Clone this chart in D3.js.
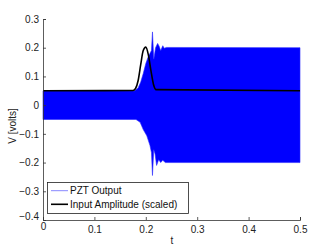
<!DOCTYPE html>
<html><head><meta charset="utf-8">
<script src="https://cdn.jsdelivr.net/npm/d3@7"></script>
<style>body{margin:0;background:#fff}svg text{font-family:"Liberation Sans",Arial,sans-serif}</style>
</head><body>
<svg id="c" width="332" height="249"></svg>
<script>
// PZT output envelope (dense oscillation drawn as filled band)
const envUpperT = [0, 0.178, 0.185, 0.19, 0.195, 0.2, 0.204, 0.208, 0.211, 0.213, 0.2155, 0.219, 0.223, 0.226, 0.229, 0.233, 0.236, 0.24, 0.5];
const envUpperV = [0.05, 0.05, 0.06, 0.08, 0.11, 0.145, 0.165, 0.18, 0.19, 0.255, 0.16, 0.2, 0.215, 0.205, 0.19, 0.207, 0.198, 0.201, 0.2];
const envLowerT = [0, 0.181, 0.189, 0.195, 0.202, 0.208, 0.211, 0.213, 0.2155, 0.218, 0.221, 0.225, 0.229, 0.233, 0.238, 0.5];
const envLowerV = [-0.05, -0.05, -0.06, -0.085, -0.107, -0.14, -0.165, -0.245, -0.155, -0.17, -0.21, -0.19, -0.2, -0.192, -0.2, -0.2];
// Input amplitude (scaled)
const inputT = [0, 0.175, 0.18, 0.185, 0.19, 0.195, 0.2, 0.205, 0.21, 0.215, 0.22, 0.5];
const inputV = [0.05, 0.051, 0.058, 0.085, 0.14, 0.19, 0.202, 0.175, 0.12, 0.072, 0.054, 0.05];
const xTicks = [0, 0.1, 0.2, 0.3, 0.4, 0.5];
const yTicks = [0.3, 0.2, 0.1, 0, -0.1, -0.2, -0.3, -0.4];
const legendLabels = ["PZT Output", "Input Amplitude (scaled)"];

const svg = d3.select("#c");
const x = d3.scaleLinear().domain([0, 0.5]).range([43, 300]);
const y = d3.scaleLinear().domain([-0.4, 0.3]).range([220, 19]);

// band
const upper = envUpperT.map((t, i) => [t, envUpperV[i]]);
const lower = envLowerT.map((t, i) => [t, envLowerV[i]]).reverse();
const poly = upper.concat(lower);
svg.append("path")
  .attr("d", d3.line().x(d => x(d[0])).y(d => y(d[1]))(poly) + "Z")
  .attr("fill", "#0000ff").attr("stroke", "#2a2aff").attr("stroke-width", 0.6);

// input amplitude
svg.append("path")
  .datum(inputT.map((t, i) => [t, inputV[i]]))
  .attr("d", d3.line().x(d => x(d[0])).y(d => y(d[1])).curve(d3.curveMonotoneX))
  .attr("fill", "none").attr("stroke", "#000").attr("stroke-width", 1.6);

// axes
const fmt = d => d === 0 ? "0" : d3.format(".1f")(d).replace("-", "\u2212");
const xa = svg.append("g").attr("transform", "translate(0,220)")
  .call(d3.axisBottom(x).tickValues(xTicks).tickSize(-3).tickPadding(6).tickFormat(fmt));
const ya = svg.append("g").attr("transform", "translate(43,0)")
  .call(d3.axisLeft(y).tickValues(yTicks).tickSize(-3).tickPadding(4).tickFormat(fmt));
[xa, ya].forEach(g => {
  g.select(".domain").attr("stroke", "#333").attr("stroke-width", 0.8);
  g.selectAll(".tick line").attr("stroke", "#333").attr("stroke-width", 0.8);
  g.selectAll("text").attr("fill", "#222").style("font-size", "10px");
});
ya.selectAll(".tick").filter(d => d === -0.4).select("text").attr("dy", "-0.1em");
xa.selectAll(".tick").filter(d => d === 0).select("text").attr("dy", "0.4em");

svg.append("text").attr("x", 172).attr("y", 244).attr("text-anchor", "middle")
  .style("font-size", "10px").attr("fill", "#222").text("t");
svg.append("text").attr("transform", "translate(16,126) rotate(-90)").attr("text-anchor", "middle")
  .style("font-size", "10px").attr("fill", "#222").text("V [volts]");

// legend
const lg = svg.append("g");
lg.append("rect").attr("x", 47.5).attr("y", 182.5).attr("width", 141).attr("height", 31)
  .attr("fill", "#fff").attr("stroke", "#222").attr("stroke-width", 0.8);
const lcol = ["#7a7aff", "#000"], lw = [0.9, 1.6];
legendLabels.forEach((lab, i) => {
  const yy = 190.7 + i * 13.6;
  lg.append("line").attr("x1", 51).attr("x2", 68).attr("y1", yy).attr("y2", yy)
    .attr("stroke", lcol[i]).attr("stroke-width", lw[i]);
  lg.append("text").attr("x", 70).attr("y", yy).attr("dy", "0.35em")
    .style("font-size", "10px").attr("fill", "#111").text(lab);
});
</script>
</body></html>
